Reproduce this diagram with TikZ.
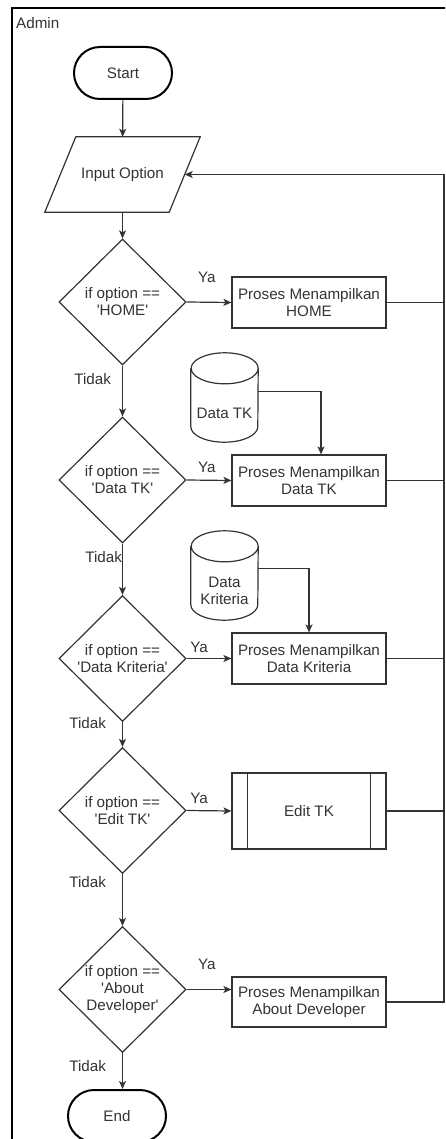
\documentclass[tikz,border=0pt]{standalone}
\usepackage{fontspec}
\setmainfont{Liberation Sans}[Ligatures=TeXOff]
\usetikzlibrary{shapes.geometric, arrows.meta, positioning}
\definecolor{ink}{HTML}{333333}

\begin{document}
\begin{tikzpicture}[x=1pt, y=-1pt,
  font=\fontsize{15.2}{17}\selectfont, text=ink,
  base/.style={draw=ink, line width=1.2pt, inner sep=0pt, align=center},
  terminal/.style={draw=black, line width=2pt, rounded corners=26pt, minimum width=98pt, minimum height=52pt, inner sep=0pt},
  process/.style={base, rectangle, minimum width=154pt, minimum height=51pt},
  decision/.style={base, diamond, minimum width=127pt, minimum height=126pt},
  io/.style={inner sep=0pt, minimum width=124pt, minimum height=75pt},
  store/.style={inner sep=0pt, minimum width=67pt, minimum height=58pt, align=center},
  link/.style={draw=ink, line width=1.2pt},
  flow/.style={link, -{Stealth[length=8pt,width=7pt,inset=2pt]}},
  lbl/.style={inner sep=0pt}]
  \clip (0,0) rectangle (445,1139);

  % Swimlane frame
  \draw[line width=2pt] (12,1170) -- (12,8) -- (480,8);
  \node[lbl, anchor=west] (admin) at (16,23) {Admin};

  % Start and input
  \node[terminal] (start) at (123,73) {Start};
  \node[io] (input) at (122.5,174.5) {Input Option};
  \draw[link] ([xshift=15.5pt]input.north west) -- ([xshift=15.5pt]input.north east)
    -- ([xshift=-15.5pt]input.south east) -- ([xshift=-15.5pt]input.south west) -- cycle;

  % Decisions
  \node[decision] (d1) at (122.5,302) {if option ==\\'HOME'};
  \node[decision] (d2) at (122.5,480) {if option ==\\'Data TK'};
  \node[decision] (d3) at (122.5,658.5) {if option ==\\'Data Kriteria'};
  \node[decision] (d4) at (122.5,810.5) {if option ==\\'Edit TK'};
  \node[decision] (d5) at (122.5,989.5) {if option ==\\'About\\Developer'};
  \node[terminal] (end) at (117,1116) {End};

  % Processes
  \node[process] (p1) at (309,302.5) {Proses Menampilkan\\HOME};
  \node[process] (p2) at (309,480.5) {Proses Menampilkan\\Data TK};
  \node[process] (p3) at (309,658.5) {Proses Menampilkan\\Data Kriteria};
  \node[process, minimum height=76pt] (edit) at (309,811) {Edit TK};
  \draw[link] ([xshift=16pt]edit.north west) -- ([xshift=16pt]edit.south west);
  \draw[link] ([xshift=-16pt]edit.north east) -- ([xshift=-16pt]edit.south east);
  \node[process, minimum height=50pt] (p5) at (309,1002) {Proses Menampilkan\\About Developer};

  % Data stores
  \node[store] (dtk) at (224.5,413) {Data TK};
  \node[store] (dkr) at (224.5,591) {Data\\Kriteria};
  \foreach \db in {dtk,dkr}
    \draw[link] ([yshift=15.5pt]\db.north west) -- ([yshift=15.5pt]\db.south west)
      arc[start angle=180, end angle=360, x radius=33.5pt, y radius=15.5pt]
      -- ([yshift=15.5pt]\db.north east)
      arc[start angle=0, end angle=180, x radius=33.5pt, y radius=15.5pt]
      arc[start angle=180, end angle=360, x radius=33.5pt, y radius=15.5pt];

  % Main flow
  \draw[flow] (start) -- (input);
  \draw[flow] (input) -- (d1);
  \draw[flow] (d1.south) -- node[lbl, pos=0.27, left=11pt] {Tidak} (d2.north);
  \draw[flow] (d2.south) -- node[lbl, pos=0.26, left=0pt] {Tidak} (d3.north);
  \draw[flow] (d3.south) -- node[lbl, pos=0.04, left=16pt] {Tidak} (d4.north);
  \draw[flow] (d4.south) -- node[lbl, pos=0.15, left=16pt] {Tidak} (d5.north);
  \draw[flow] (d5.south) -- node[lbl, pos=0.35, left=16pt] {Tidak} (d5.south |- end.north);

  % Ya branches
  \draw[flow] (d1.east) -- node[lbl, pos=0.45, above=19pt] {Ya} (p1.west);
  \draw[flow] (d2.east) -- node[lbl, pos=0.45, above=6.5pt] {Ya} (p2.west);
  \draw[flow] (d3.east) -- node[lbl, pos=0.28, above=5.5pt] {Ya} (p3.west);
  \draw[flow] (d4.east) -- node[lbl, pos=0.28, above=6.5pt] {Ya} (edit.west);
  \draw[flow] (d5.east) -- node[lbl, pos=0.45, above=19pt] {Ya} (d5.east -| p5.west);

  % Data into processes
  \draw[flow] ([yshift=-8pt]dtk.north east) -| ([xshift=12pt]p2.north);
  \draw[flow] ([yshift=-7pt]dkr.north east) -| (p3.north);

  % Loop back to input
  \coordinate (loop) at (444,0);
  \foreach \p in {p1,p2,p3,edit}
    \draw[link] (\p.east) -- (\p.east -| loop);
  \draw[flow] (p5.east) -- (p5.east -| loop) |- (input.east);
\end{tikzpicture}
\end{document}
